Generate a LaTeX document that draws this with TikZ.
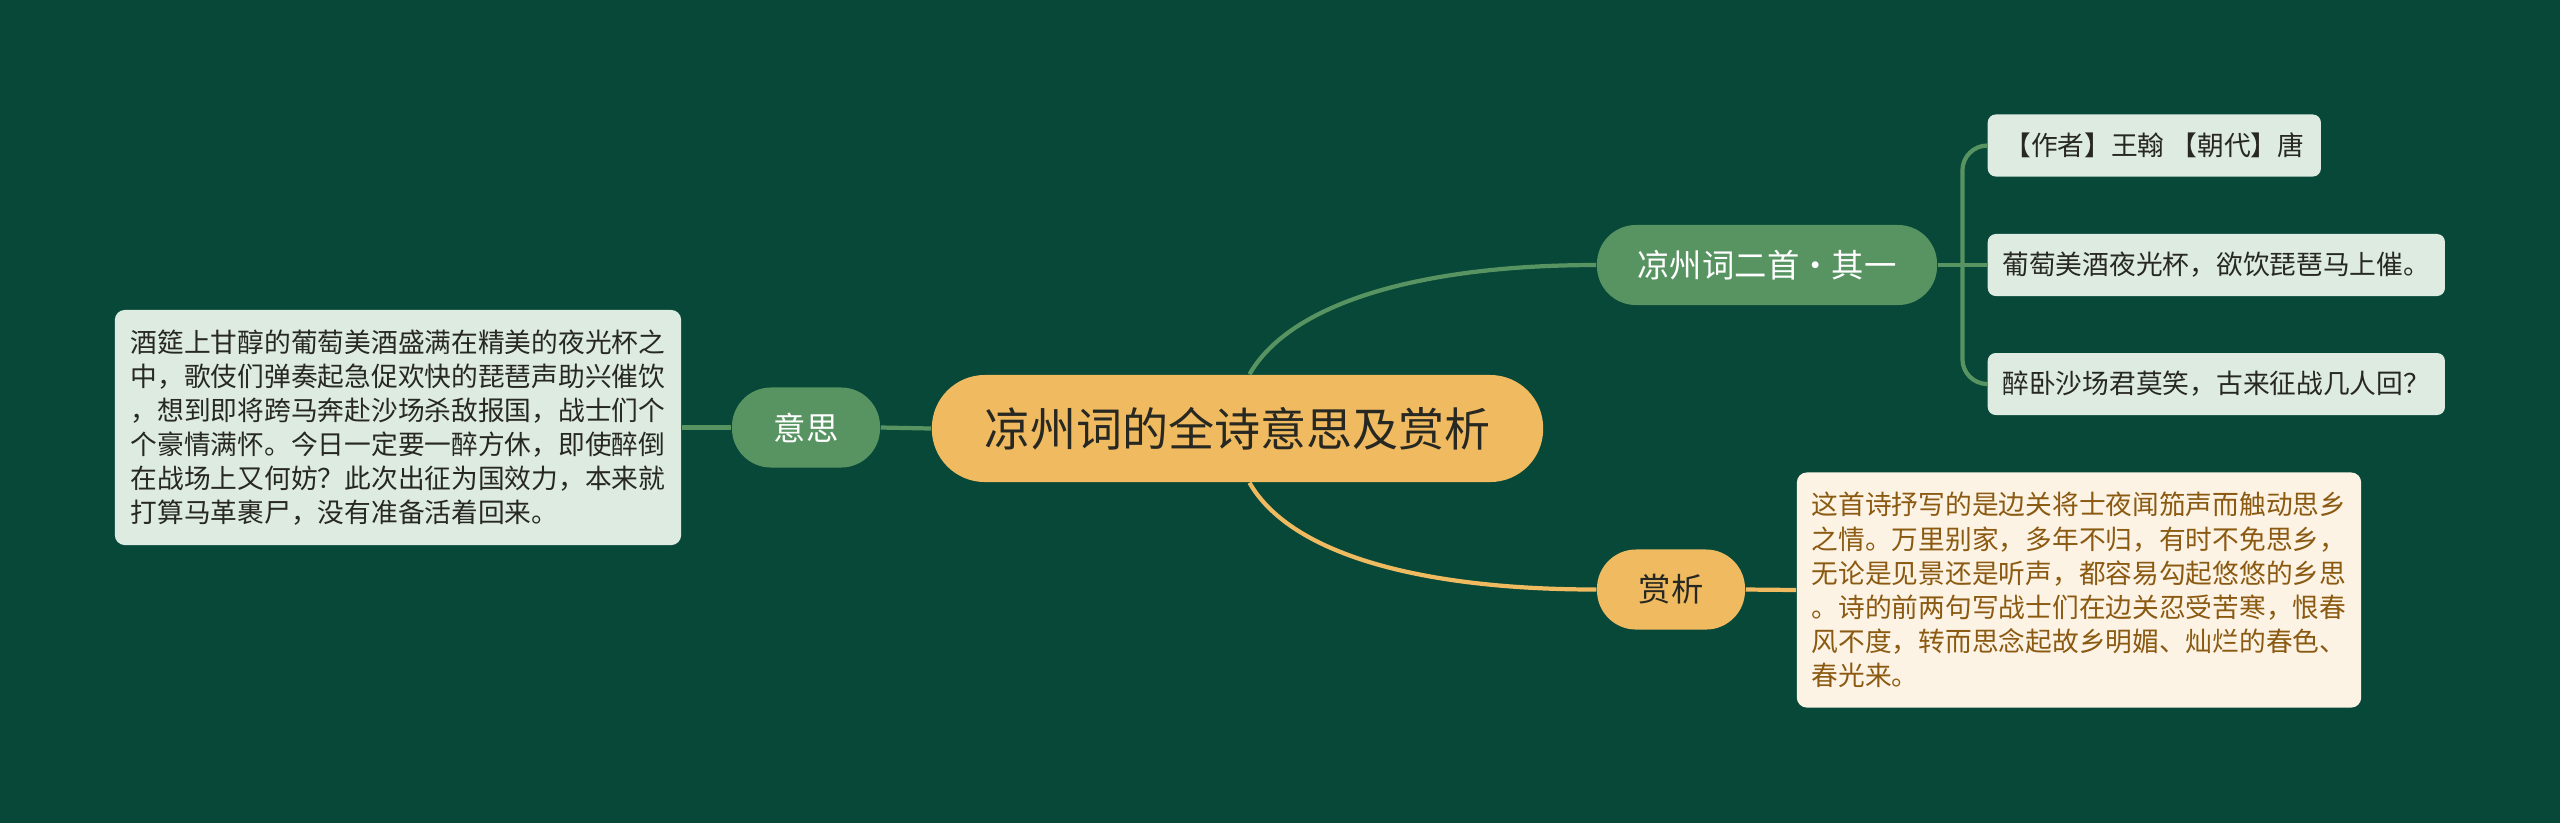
\documentclass[tikz,border=0pt]{standalone}
\usepackage{fontspec}
\setmainfont{Noto Sans CJK SC}
\usetikzlibrary{calc}
\definecolor{bgdark}{RGB}{7,72,57}
\definecolor{leafgreen}{RGB}{88,148,98}
\definecolor{palegreen}{RGB}{221,235,225}
\definecolor{gold}{RGB}{240,187,96}
\definecolor{cream}{RGB}{253,243,228}
\definecolor{brownink}{RGB}{139,90,18}
\definecolor{darkink}{RGB}{40,40,35}
\begin{document}
\begin{tikzpicture}[x=0.01cm,y=-0.01cm,
  title/.style={fill=gold,text=darkink,rounded corners=0.53cm,minimum width=6.11cm,minimum height=1.07cm,font=\fontsize{13.1pt}{15pt}\selectfont},
  branch/.style={fill=leafgreen,text=white,rounded corners=0.39cm,minimum height=0.8cm,font=\fontsize{9.2pt}{11pt}\selectfont},
  leaf/.style={fill=palegreen,text=darkink,rounded corners=0.08cm,anchor=west,minimum height=0.62cm,font=\fontsize{7.6pt}{9.7pt}\selectfont},
  notebox/.style={rounded corners=0.1cm,align=left,minimum height=2.35cm,font=\fontsize{7.6pt}{9.7pt}\selectfont},
  greenline/.style={draw=leafgreen,line width=1.2pt},
  goldline/.style={draw=gold,line width=1.2pt}]
  \fill[bgdark] (0,0) rectangle (2560,823);
  \useasboundingbox (0,0) rectangle (2560,823);
  \node[title] (title) at (1237.5,428.5) {凉州词的全诗意思及赏析};
  \node[branch,minimum width=1.48cm] (meaning) at (806,427.5) {意思};
  \node[branch,minimum width=3.4cm] (poem) at (1767,265) {凉州词二首·其一};
  \node[branch,fill=gold,text=darkink,minimum width=1.48cm] (appr) at (1671,589.5) {赏析};
  \node[leaf,minimum width=3.33cm] (leaf1) at (1987,145.5) {【作者】王翰 【朝代】唐};
  \node[leaf,minimum width=4.57cm] (leaf2) at (1987,265) {葡萄美酒夜光杯，欲饮琵琶马上催。};
  \node[leaf,minimum width=4.57cm] (leaf3) at (1987,384) {醉卧沙场君莫笑，古来征战几人回？};
  \node[notebox,fill=palegreen,text=darkink,minimum width=5.66cm] (meantext) at (398,427.5)
    {酒筵上甘醇的葡萄美酒盛满在精美的夜光杯之\\
     中，歌伎们弹奏起急促欢快的琵琶声助兴催饮\\
     ，想到即将跨马奔赴沙场杀敌报国，战士们个\\
     个豪情满怀。今日一定要一醉方休，即使醉倒\\
     在战场上又何妨？此次出征为国效力，本来就\\
     打算马革裹尸，没有准备活着回来。};
  \node[notebox,fill=cream,text=brownink,minimum width=5.64cm] (apptext) at (2079,590)
    {这首诗抒写的是边关将士夜闻笳声而触动思乡\\
     之情。万里别家，多年不归，有时不免思乡，\\
     无论是见景还是听声，都容易勾起悠悠的乡思\\
     。诗的前两句写战士们在边关忍受苦寒，恨春\\
     风不度，转而思念起故乡明媚、灿烂的春色、\\
     春光来。};
  \draw[greenline] (title.west) -- (meaning.east);
  \draw[greenline] (meaning.west) -- (meantext.east);
  \draw[greenline] ($(title.north)+(12,0)$) .. controls +(40,-70) and +(-180,0) .. (poem.west);
  \draw[goldline] ($(title.south)+(12,0)$) .. controls +(40,70) and +(-180,0) .. (appr.west);
  \draw[goldline] (appr.east) -- (apptext.west);
  \coordinate (spine) at ($(poem.east)!0.5!(leaf2.west)$);
  \draw[greenline] (poem.east) -- (leaf2.west);
  \draw[greenline,rounded corners=0.25cm] (leaf1.west) -| (spine) |- (leaf3.west);
\end{tikzpicture}
\end{document}
